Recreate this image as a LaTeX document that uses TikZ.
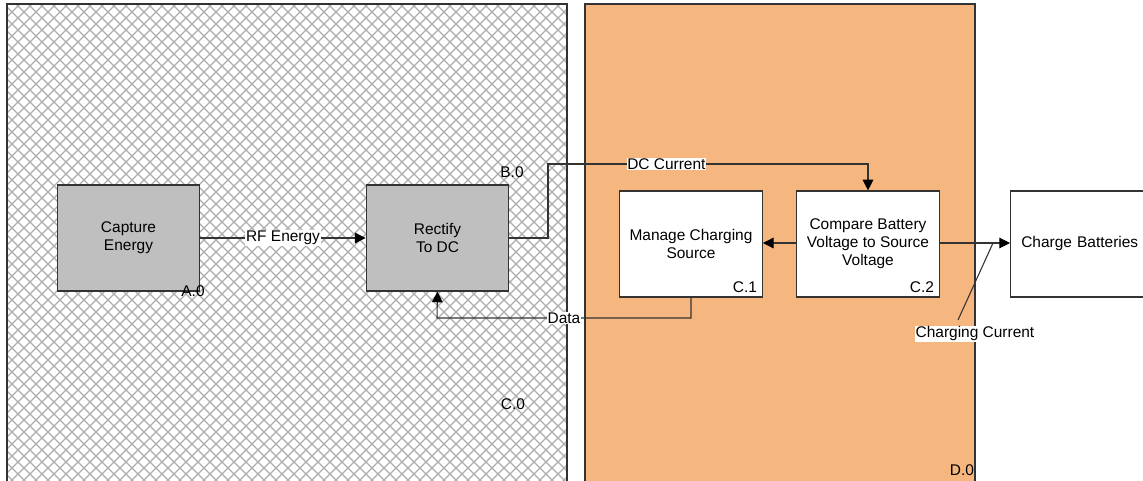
\documentclass[tikz,border=0pt]{standalone}
\usepackage{fontspec}
\setmainfont{Liberation Sans}
\usetikzlibrary{arrows.meta}
\definecolor{orangefill}{HTML}{F6B67F}
\definecolor{boxgray}{HTML}{BFBFBF}
\definecolor{edge}{HTML}{333333}
\tikzset{
  every node/.style={font=\fontsize{11.6}{13.6}\selectfont},
  proc/.style={draw=edge, line width=0.9pt, minimum width=107pt, minimum height=79.5pt, align=center, inner sep=0pt},
  greyproc/.style={proc, fill=boxgray},
  whiteproc/.style={proc, fill=white},
  conn/.style={draw=edge, line width=0.8pt},
  arr/.style={conn, -{Triangle[length=8pt,width=8pt,color=black]}},
  lbl/.style={fill=white, inner sep=0.5pt},
  tag/.style={inner sep=0pt},
  hatch/.style={gray!65, line width=0.9pt}
}
\begin{document}
\begin{tikzpicture}[x=0.75pt,y=-0.75pt]
\useasboundingbox (0,0) rectangle (1143,481);
% left hatched region
\begin{scope}
  \clip (7,4) rectangle (567,490);
  \foreach \i in {-600,-588,...,1200}{
    \draw[hatch] (\i,0) -- ++(600,600);
    \draw[hatch] (\i,0) -- ++(-600,600);
  }
\end{scope}
\draw[edge, line width=1pt] (7,495) -- (7,4) -- (567,4) -- (567,495);
% orange region
\draw[edge, line width=1pt, fill=orangefill] (585,495) -- (585,4) -- (975,4) -- (975,495);
% boxes
\node[greyproc] (A) at (128.5,238) {Capture\\Energy};
\node[greyproc] (B) at (437.5,238) {Rectify\\To DC};
\node[whiteproc] (C1) at (691,244) {Manage Charging\\Source};
\node[whiteproc] (C2) at (868,244) {Compare Battery\\Voltage to Source\\Voltage};
\node[whiteproc, anchor=west, text width=96pt, align=left, inner xsep=8pt] (CB) at (1010,244) {Charge Batteries};
% tags
\node[tag] (tA) at (193,291) {A.0};
\node[tag] (tB) at (512,172) {B.0};
\node[tag] (tC0) at (513,404) {C.0};
\node[tag] (tC1) at (745,287) {C.1};
\node[tag] (tC2) at (922,287) {C.2};
\node[tag] (tD) at (962,470) {D.0};
% connectors
\draw[arr] (A.east) -- node[lbl] {RF Energy} (B.east -| B.west);
\coordinate (b1) at (548,238);
\coordinate (b2) at (548,164);
\draw[arr] (B.east) -- (b1) -- (b2) -- node[lbl, pos=0.37] {DC Current} (b2 -| C2.north) -- (C2.north);
\draw[arr] (C2.west |- 0,243) -- (C1.east |- 0,243);
\draw[arr] (C2.east |- 0,243) -- (CB.west |- 0,243);
\coordinate (d1) at (691,318);
\coordinate (d2) at (437,318);
\draw[arr] (C1.south) -- (d1) -- node[lbl, pos=0.5] {Data} (d2) -- (B.south);
\node[lbl] (cc) at (975,334) {Charging Current};
\coordinate (ccp) at (993,243);
\draw[conn] (958,320) -- (ccp);
\end{tikzpicture}
\end{document}
